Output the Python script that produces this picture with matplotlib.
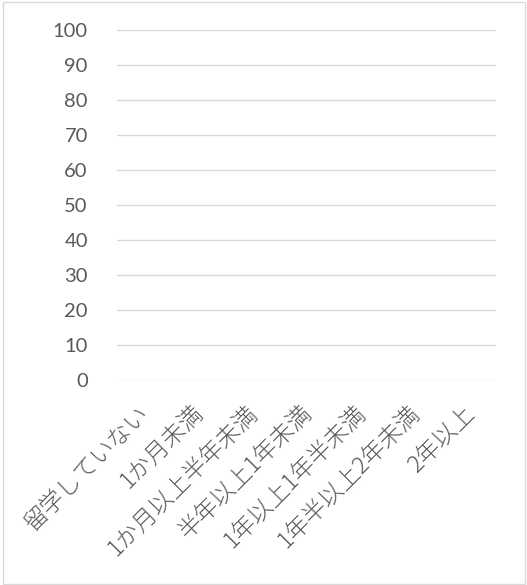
import matplotlib
matplotlib.use("Agg")
import matplotlib.pyplot as plt
import matplotlib.transforms as mtransforms
from matplotlib.patches import Rectangle

# 留学期間カテゴリ (all bars are at zero)
categories = ["留学していない", "1か月未満", "1か月以上半年未満", "半年以上1年未満",
              "1年以上1年半未満", "1年半以上2年未満", "2年以上"]
values = [0, 0, 0, 0, 0, 0, 0]
y_ticks = [0, 10, 20, 30, 40, 50, 60, 70, 80, 90, 100]

plt.rcParams['font.family'] = ['Noto Sans CJK JP', 'DejaVu Sans']

fig = plt.figure(figsize=(5.27, 5.85), dpi=100)
ax = fig.add_axes([117 / 527, 1 - 380 / 585, (496 - 117) / 527, 350 / 585])

x = range(len(categories))
ax.bar(x, values, width=0.6, color="#4472C4")
ax.set_xlim(-0.5, len(categories) - 0.5)
ax.set_ylim(0, 100)
ax.set_yticks(y_ticks)
ax.set_xticks(list(x))
ax.set_xticklabels(categories, rotation=45, ha="right", va="top",
                   rotation_mode="anchor", fontsize=17, color="#595959",
                   fontweight="light")
ax.tick_params(axis="y", labelsize=14.5, labelcolor="#595959", length=0, pad=21)
ax.tick_params(axis="x", length=0, pad=7)
for lbl in ax.get_yticklabels():
    lbl.set_fontfamily(['Lato', 'DejaVu Sans'])

# nudge the slanted labels left/down like the original
offset = mtransforms.ScaledTranslation(-7 / 100, -11 / 100, fig.dpi_scale_trans)
for lbl in ax.get_xticklabels():
    lbl.set_transform(lbl.get_transform() + offset)

ax.yaxis.grid(True, color="#d9d9d9", linewidth=1)
ax.set_axisbelow(True)
for s in ax.spines.values():
    s.set_visible(False)

# outer chart border
fig.patches.append(Rectangle((3 / 527, 1 / 585), 522 / 527, 582 / 585,
                             transform=fig.transFigure, fill=False,
                             edgecolor="#d9d9d9", linewidth=1))

fig.savefig("out.png", dpi=100)
